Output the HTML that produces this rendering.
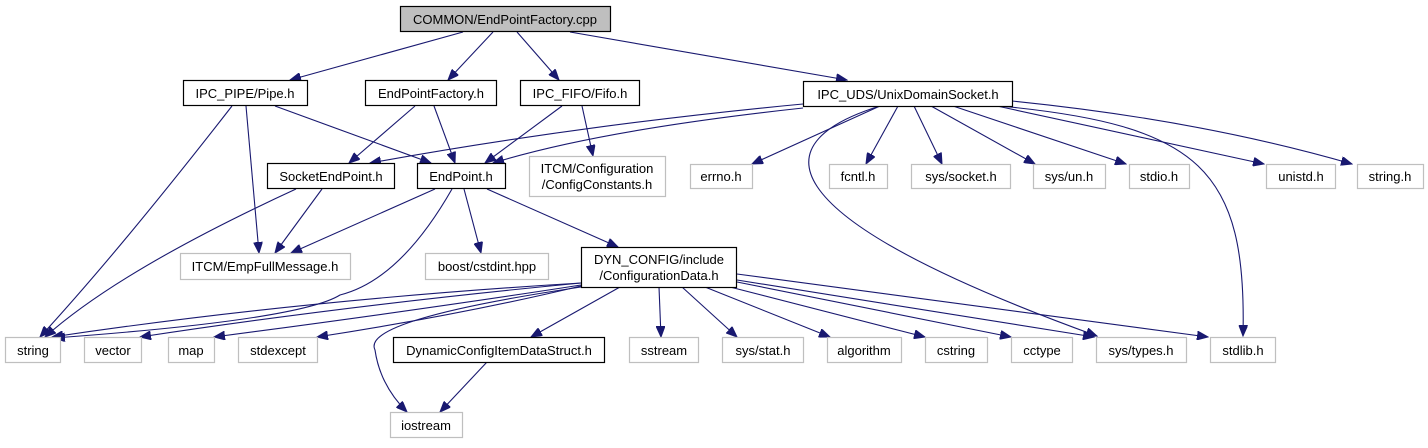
<!DOCTYPE html>
<html><head><meta charset="utf-8"><style>
html,body{margin:0;padding:0;background:#fff;}
body{width:1428px;height:443px;overflow:hidden;position:relative;font-family:"Liberation Sans",sans-serif;}
</style></head><body>
<svg width="1428" height="443" viewBox="0 0 1428 443" xmlns="http://www.w3.org/2000/svg" font-family="Liberation Sans, sans-serif" font-size="13">
<defs>
<marker id="a" markerWidth="12" markerHeight="9" refX="11" refY="4.5" orient="auto" markerUnits="userSpaceOnUse">
<path d="M0,0 L11,4.5 L0,9 Z" fill="#191970" stroke="#191970"/>
</marker>
</defs>
<g fill="none" stroke="#191970" stroke-width="1.1" marker-end="url(#a)">
<path d="M463,32 L290,80"/>
<path d="M493,32 L448,80"/>
<path d="M517,32 L559,80"/>
<path d="M570,32 L847,80"/>
<path d="M232,106 Q120,250 40,337"/>
<path d="M246,106 L259,253"/>
<path d="M275,106 L431,163"/>
<path d="M415,106 L349,163"/>
<path d="M434,106 L455,163"/>
<path d="M562,106 L485,163"/>
<path d="M582,106 L593,156"/>
<path d="M803,104 Q580,125 370,163"/>
<path d="M803,108 Q600,130 493,163"/>
<path d="M880,106 L752,164"/>
<path d="M898,106 L866,164"/>
<path d="M914,106 L942,164"/>
<path d="M931,106 L1035,164"/>
<path d="M953,106 L1126,164"/>
<path d="M997,106 L1264,164"/>
<path d="M1012,101 Q1200,120 1352,164"/>
<path d="M880,106 C770,140 750,210 1097,336"/>
<path d="M1000,106 C1200,125 1247,170 1243,336"/>
<path d="M296,189 Q120,270 45,337"/>
<path d="M322,189 L275,253"/>
<path d="M435,189 L291,253"/>
<path d="M452,189 Q400,280 340,295 Q300,320 54,338"/>
<path d="M464,189 L481,253"/>
<path d="M487,189 L618,247"/>
<path d="M581,283 Q300,300 52,337"/>
<path d="M581,283 Q350,305 140,337"/>
<path d="M581,285 Q420,310 214,337"/>
<path d="M581,286 Q460,315 317,337"/>
<path d="M581,287 Q360,320 375,350 Q380,385 407,412"/>
<path d="M620,287 L531,337"/>
<path d="M659,287 L661,337"/>
<path d="M682,287 L737,337"/>
<path d="M705,287 L830,337"/>
<path d="M730,287 L925,337"/>
<path d="M737,282 L1011,337"/>
<path d="M737,280 L1094,337"/>
<path d="M737,274 L1208,337"/>
<path d="M487,362 L440,412"/>
</g>
<g stroke-width="1.2">
<rect x="400.5" y="6.5" width="210" height="25" fill="#bfbfbf" stroke="#000"/>
<g fill="#fff" stroke="#000">
<rect x="183.5" y="80.5" width="124" height="25"/>
<rect x="365.5" y="80.5" width="131" height="25"/>
<rect x="520.5" y="80.5" width="119" height="25"/>
<rect x="803.5" y="81.5" width="209" height="25"/>
<rect x="267.5" y="163.5" width="127" height="25"/>
<rect x="417.5" y="163.5" width="88" height="25"/>
<rect x="581.5" y="247.5" width="155" height="40"/>
<rect x="393.5" y="337.5" width="211" height="25"/>
</g>
<g fill="#fff" stroke="#bfbfbf">
<rect x="529.5" y="156.5" width="136" height="40"/>
<rect x="690.5" y="164.5" width="62" height="24"/>
<rect x="829.5" y="164.5" width="58" height="24"/>
<rect x="911.5" y="164.5" width="99" height="24"/>
<rect x="1033.5" y="164.5" width="72" height="24"/>
<rect x="1129.5" y="164.5" width="60" height="24"/>
<rect x="1266.5" y="164.5" width="69" height="24"/>
<rect x="1357.5" y="164.5" width="66" height="24"/>
<rect x="180.5" y="253.5" width="170" height="26"/>
<rect x="425.5" y="253.5" width="123" height="26"/>
<rect x="5.5" y="337.5" width="55" height="25"/>
<rect x="84.5" y="337.5" width="57" height="25"/>
<rect x="168.5" y="337.5" width="46" height="25"/>
<rect x="238.5" y="337.5" width="79" height="25"/>
<rect x="629.5" y="337.5" width="69" height="25"/>
<rect x="722.5" y="337.5" width="81" height="25"/>
<rect x="827.5" y="337.5" width="74" height="25"/>
<rect x="925.5" y="337.5" width="62" height="25"/>
<rect x="1011.5" y="337.5" width="61" height="25"/>
<rect x="1096.5" y="337.5" width="90" height="25"/>
<rect x="1210.5" y="337.5" width="65" height="25"/>
<rect x="390.5" y="412.5" width="72" height="25"/>
</g>
</g>
<g fill="#000" text-anchor="middle">
<text x="505" y="24">COMMON/EndPointFactory.cpp</text>
<text x="245" y="98">IPC_PIPE/Pipe.h</text>
<text x="431" y="98">EndPointFactory.h</text>
<text x="580" y="98">IPC_FIFO/Fifo.h</text>
<text x="908" y="99">IPC_UDS/UnixDomainSocket.h</text>
<text x="331" y="181">SocketEndPoint.h</text>
<text x="461" y="181">EndPoint.h</text>
<text x="597" y="173">ITCM/Configuration</text>
<text x="597" y="189">/ConfigConstants.h</text>
<text x="721" y="181">errno.h</text>
<text x="858" y="181">fcntl.h</text>
<text x="961" y="181">sys/socket.h</text>
<text x="1069" y="181">sys/un.h</text>
<text x="1159" y="181">stdio.h</text>
<text x="1301" y="181">unistd.h</text>
<text x="1390" y="181">string.h</text>
<text x="265" y="271">ITCM/EmpFullMessage.h</text>
<text x="487" y="271">boost/cstdint.hpp</text>
<text x="659" y="264">DYN_CONFIG/include</text>
<text x="659" y="280">/ConfigurationData.h</text>
<text x="33" y="355">string</text>
<text x="113" y="355">vector</text>
<text x="191" y="355">map</text>
<text x="278" y="355">stdexcept</text>
<text x="499" y="355">DynamicConfigItemDataStruct.h</text>
<text x="664" y="355">sstream</text>
<text x="763" y="355">sys/stat.h</text>
<text x="864" y="355">algorithm</text>
<text x="956" y="355">cstring</text>
<text x="1042" y="355">cctype</text>
<text x="1141" y="355">sys/types.h</text>
<text x="1243" y="355">stdlib.h</text>
<text x="426" y="430">iostream</text>
</g>
</svg>
</body></html>
